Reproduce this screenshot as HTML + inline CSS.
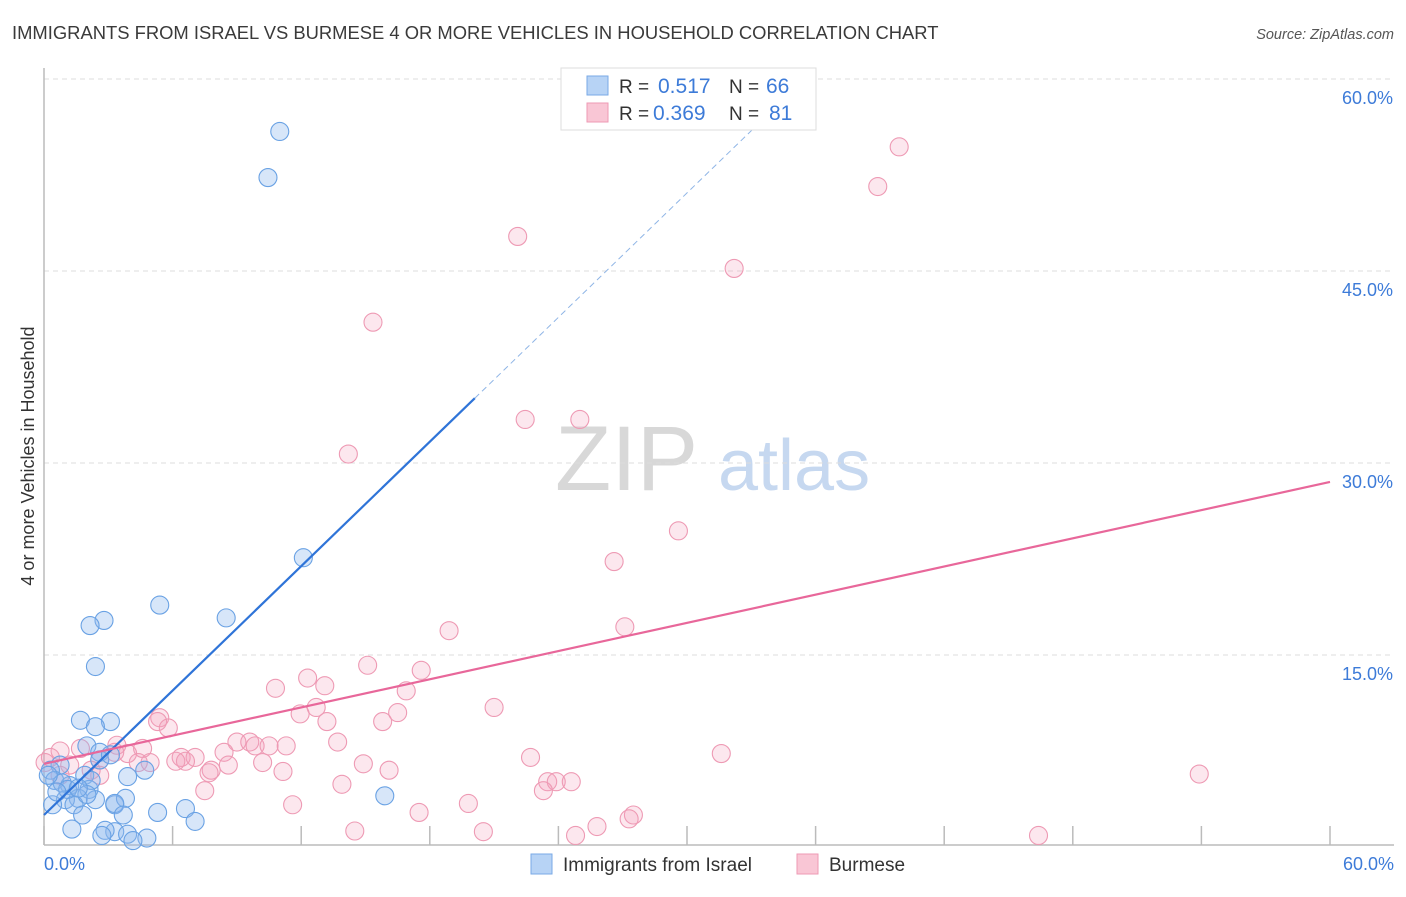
<!DOCTYPE html>
<html><head><meta charset="utf-8"><style>
body{margin:0;background:#fff;font-family:"Liberation Sans",sans-serif;}
svg text{font-family:"Liberation Sans",sans-serif;}
</style></head><body>
<svg id="chart" width="1406" height="892" xmlns="http://www.w3.org/2000/svg">
<text x="12" y="39" font-size="18.4" fill="#3a3a3a">IMMIGRANTS FROM ISRAEL VS BURMESE 4 OR MORE VEHICLES IN HOUSEHOLD CORRELATION CHART</text>
<text x="1394" y="39" font-size="14.5" fill="#555" font-style="italic" text-anchor="end">Source: ZipAtlas.com</text>
<g>
<text x="555" y="490" font-size="92" fill="#d8d8d8" font-family="Liberation Serif, serif">ZIP</text>
<text x="718" y="490" font-size="72" fill="#c6d8f0">atlas</text>
</g>
<text transform="translate(34,456) rotate(-90)" font-size="18" fill="#333" text-anchor="middle">4 or more Vehicles in Household</text>
<g id="grid"></g>
<g id="axes"></g>
<g id="marks"></g>
<g>
<rect x="561" y="68" width="255" height="62" fill="#fff" stroke="#ddd"/>
<rect x="587" y="76" width="21" height="19" fill="#b7d3f5" stroke="#7aaae6"/>
<rect x="587" y="103" width="21" height="19" fill="#f9c6d5" stroke="#ee9ab4"/>
<text x="619" y="93" font-size="19" fill="#333">R = </text><text x="658" y="93" font-size="21" fill="#3d7bd8">0.517</text>
<text x="729" y="93" font-size="19" fill="#333">N = </text><text x="766" y="93" font-size="21" fill="#3d7bd8">66</text>
<text x="619" y="120" font-size="19" fill="#333">R = </text><text x="653" y="120" font-size="21" fill="#3d7bd8">0.369</text>
<text x="729" y="120" font-size="19" fill="#333">N = </text><text x="769" y="120" font-size="21" fill="#3d7bd8">81</text>
</g>
<g>
<rect x="531" y="854" width="21" height="20" fill="#b7d3f5" stroke="#7aaae6"/>
<text x="563" y="871" font-size="19" fill="#333">Immigrants from Israel</text>
<rect x="797" y="854" width="21" height="20" fill="#f9c6d5" stroke="#ee9ab4"/>
<text x="829" y="871" font-size="19" fill="#333">Burmese</text>
</g>
</svg>
<script>
const xTicks=[0,6,12,18,24,30,36,42,48,54,60];
const yTicks=[15,30,45,60];
const yTickLabels=["15.0%","30.0%","45.0%","60.0%"];
const israelX=[11.0,10.45,12.1,5.4,8.5,2.8,2.15,2.4,1.7,3.1,2.4,2.0,2.6,4.7,3.9,0.75,0.3,0.5,1.2,1.9,2.1,1.6,1.0,1.4,2.4,3.3,3.8,1.8,0.4,1.3,3.3,5.3,6.6,7.05,3.7,3.3,2.85,2.7,3.9,4.8,4.15,15.9,0.85,0.2,2.2,1.1,0.6,2.6,3.1,2.0,1.6];
const israelY=[55.9,52.3,22.6,18.9,17.9,17.7,17.3,14.1,9.9,9.8,9.4,7.9,7.4,6.0,5.5,6.4,6.0,5.2,4.8,5.6,4.5,3.8,3.7,3.3,3.7,3.3,3.8,2.5,3.3,1.4,3.4,2.7,3.0,2.0,2.5,1.2,1.3,0.9,1.0,0.7,0.5,4.0,5.0,5.6,5.2,4.5,4.3,6.8,7.2,4.1,4.6];
const burmeseX=[39.9,38.9,22.1,32.2,15.35,22.45,25.0,14.2,29.6,26.6,27.1,18.9,15.1,17.6,12.3,10.8,13.1,16.9,21.0,12.7,11.95,16.5,15.8,13.2,5.4,5.3,5.8,13.7,9.0,9.6,9.85,10.5,11.3,8.4,4.6,3.9,3.4,1.7,0.75,0.3,0.05,6.4,7.05,6.6,6.15,4.95,4.4,10.2,8.6,7.8,7.7,11.15,14.9,16.1,22.7,31.6,53.9,23.5,23.9,24.6,23.3,7.5,13.9,11.6,19.8,17.5,27.5,27.3,25.8,24.8,20.5,14.5,46.4,2.6,1.2,2.2,3.3,0.75,2.6];
const burmeseY=[54.7,51.6,47.7,45.2,41.0,33.4,33.4,30.7,24.7,22.3,17.2,16.9,14.2,13.8,13.2,12.4,12.6,12.2,10.9,10.9,10.4,10.5,9.8,9.8,10.1,9.8,9.3,8.2,8.2,8.2,7.9,7.9,7.9,7.4,7.7,7.3,7.95,7.7,7.5,7.0,6.6,7.0,7.0,6.7,6.7,6.6,6.6,6.6,6.4,6.0,5.8,5.9,6.5,6.0,7.0,7.3,5.7,5.1,5.1,5.1,4.4,4.4,4.9,3.3,3.4,2.7,2.5,2.2,1.6,0.9,1.2,1.25,0.9,6.8,6.4,6.0,7.4,5.6,5.6];
const israelFit=[2.5,1.62];
const burmeseFit=[6.5,0.367];
const X=v=>44+v*(1286/60);
const Y=v=>847-v*12.8;
const NS="http://www.w3.org/2000/svg";
function mk(tag,parent,attrs){const e=document.createElementNS(NS,tag);for(const k in attrs)e.setAttribute(k,attrs[k]);document.getElementById(parent).appendChild(e);return e;}
yTicks.forEach((t,i)=>{
  const g=mk('line','grid',{x1:44,x2:1394,y1:Y(t),y2:Y(t),stroke:'#ddd','stroke-dasharray':'5,4'});
  
  
  const l=mk('text','axes',{x:1393,y:Y(t)+25,'font-size':18,fill:'#3d7bd8','text-anchor':'end'});
  l.textContent=yTickLabels[i];
  
  
});
const ax=mk('line','axes',{x1:44,x2:1394,y1:845,y2:845,stroke:'#bbb','stroke-width':1.5});


const ay=mk('line','axes',{x1:44,x2:44,y1:68,y2:845,stroke:'#bbb','stroke-width':1.5});


xTicks.forEach(t=>{
  const k=mk('line','axes',{x1:X(t),x2:X(t),y1:826,y2:845,stroke:'#bbb','stroke-width':1.5});
  
  
});
const xl0=mk('text','axes',{x:44,y:870,'font-size':18,fill:'#3d7bd8'});xl0.textContent='0.0%';


const xl1=mk('text','axes',{x:1394,y:870,'font-size':18,fill:'#3d7bd8','text-anchor':'end'});xl1.textContent='60.0%';


burmeseX.forEach((v,i)=>{
  const c=mk('circle','marks',{cx:X(v),cy:Y(burmeseY[i]),r:9,fill:'rgba(244,160,188,0.25)',stroke:'#ee9ab4','stroke-width':1.1});
  
  
});
israelX.forEach((v,i)=>{
  const c=mk('circle','marks',{cx:X(v),cy:Y(israelY[i]),r:9,fill:'rgba(140,182,238,0.35)',stroke:'#6aa2e4','stroke-width':1.1});
  
  
});
const bEnd=20.1, bDash=(60-israelFit[0])/israelFit[1];
const l1=mk('line','marks',{x1:X(0),y1:Y(israelFit[0]),x2:X(bEnd),y2:Y(israelFit[0]+israelFit[1]*bEnd),stroke:'#2f74d8','stroke-width':2.2});


const l2=mk('line','marks',{x1:X(bEnd),y1:Y(israelFit[0]+israelFit[1]*bEnd),x2:X(bDash),y2:Y(60),stroke:'#8fb5e6','stroke-width':1,'stroke-dasharray':'6,4'});


const l3=mk('line','marks',{x1:X(0),y1:Y(burmeseFit[0]),x2:X(60),y2:Y(burmeseFit[0]+burmeseFit[1]*60),stroke:'#e8679a','stroke-width':2.2});


</script>
</body></html>
